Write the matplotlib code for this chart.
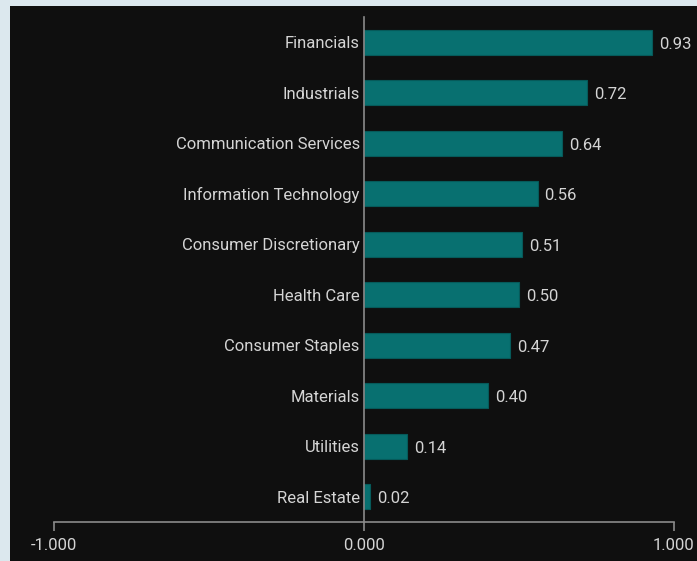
import matplotlib
matplotlib.use("Agg")
import matplotlib.pyplot as plt
from matplotlib.patches import Rectangle

# sector values, bottom to top
sectors = [
    "Real Estate",
    "Utilities",
    "Materials",
    "Consumer Staples",
    "Health Care",
    "Consumer Discretionary",
    "Information Technology",
    "Communication Services",
    "Industrials",
    "Financials",
]
values = [0.02, 0.14, 0.40, 0.47, 0.50, 0.51, 0.56, 0.64, 0.72, 0.93]
x_ticks = [-1.0, 0.0, 1.0]

BG = "#0f0f0f"
BORDER = "#dce8ee"
TEXT = "#d4d4d4"
AXIS = "#8a8a8a"
BAR = "#087070"

plt.rcParams["font.family"] = ["Roboto", "DejaVu Sans"]

fig = plt.figure(figsize=(6.97, 5.61), dpi=100, facecolor=BORDER)
# dark panel inside the light frame
fig.patches.append(
    Rectangle((10 / 697, 0), 1, 1 - 6 / 561, transform=fig.transFigure,
              facecolor=BG, edgecolor="none", zorder=-10)
)

ax = fig.add_axes([54 / 697, 1 - 522 / 561, (674 - 54) / 697, (522 - 17) / 561])
ax.set_facecolor("none")

ypos = list(range(len(sectors)))
ax.barh(ypos, values, height=0.49, color=BAR, edgecolor="#065a5a", linewidth=0.8)
for y, v in zip(ypos, values):
    ax.annotate(f"{v:.2f}", (v, y), xytext=(5, -1.5), textcoords="offset points",
                va="center", ha="left", color=TEXT, fontsize=12)

ax.set_xlim(-1, 1)
ax.set_ylim(-0.5, 9.5)
ax.set_yticks(ypos)
ax.set_yticklabels(sectors)
ax.set_xticks(x_ticks)
ax.set_xticklabels([f"{t:.3f}" for t in x_ticks])

ax.spines["top"].set_visible(False)
ax.spines["right"].set_visible(False)
ax.spines["left"].set_position(("data", 0))
ax.spines["left"].set_color(AXIS)
ax.spines["bottom"].set_color(AXIS)
ax.spines["left"].set_linewidth(1.2)
ax.spines["bottom"].set_linewidth(1.2)

ax.tick_params(axis="y", length=0, pad=3, labelsize=12, labelcolor=TEXT)
ax.tick_params(axis="x", length=6.5, width=1.2, color=AXIS, pad=5,
               labelsize=12, labelcolor=TEXT)

fig.savefig("out.png", dpi=100, facecolor=BORDER)
